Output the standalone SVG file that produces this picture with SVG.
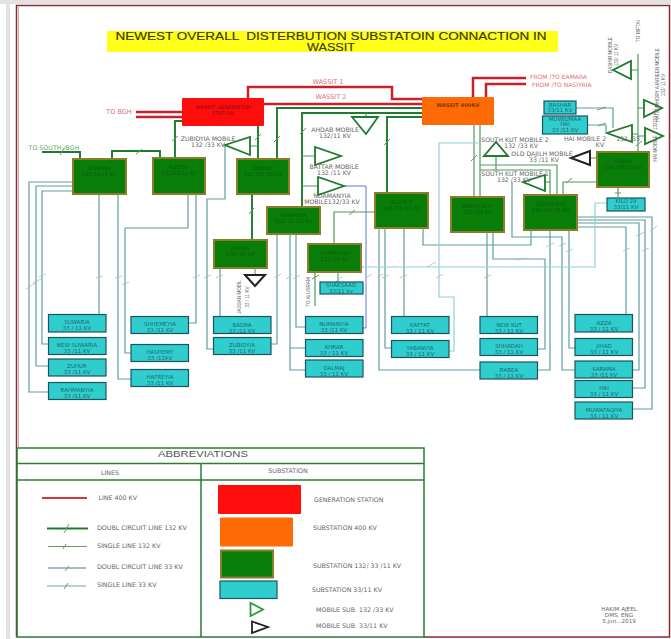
<svg xmlns="http://www.w3.org/2000/svg" width="671" height="639" viewBox="0 0 671 639">
<style>
text{font-family:"DejaVu Sans","Liberation Sans",sans-serif;text-anchor:middle}
.l{text-anchor:start}
.v{font-family:"Liberation Sans",Arial,sans-serif;font-size:4.6px;fill:#666}
.h{font-family:"Liberation Sans",Arial,sans-serif}
.fr{fill:none;stroke:#8a2a30;stroke-width:1.5}
.r{fill:none;stroke:#c8202c;stroke-width:2.5}
.g{fill:none;stroke:#1f7a2f;stroke-width:1.9}
.gs{fill:none;stroke:#4f9a5c;stroke-width:1.2}
.t{fill:none;stroke:#5f9ea0;stroke-width:1.2}
.lb{fill:none;stroke:#8fd3dc;stroke-width:1.2}
.bl{fill:none;stroke:#5a7fd0;stroke-width:1}
.tk{fill:none;stroke:#b5b5b5;stroke-width:.8}
.tg{fill:none;stroke:#5f9e5f;stroke-width:1}
.gn{fill:#087d08;stroke:#8a7d2c;stroke-width:2}
.tl{fill:#2fcdcd;stroke:#1a5560;stroke-width:1.2}
.gt{font-size:5.1px;fill:#0a5a12}
.tt{font-size:5.5px;fill:#1d6a74}
.lab{font-size:6.2px;fill:#666}
.rl{font-size:6.5px;fill:#dc7078}
.rs{font-size:6px;fill:#dc7078}
.tg1{fill:none;stroke:#1f7a2f;stroke-width:1.8}
.tb{fill:none;stroke:#222;stroke-width:2}
.lg{font-size:6.3px;fill:#666}
.sg{font-size:5.6px;fill:#666}
.box{fill:none;stroke:#2a7d33;stroke-width:1.5}
</style>
<rect x="0" y="0" width="671" height="639" fill="#fff"/>
<rect x="0" y="0" width="671" height="4" fill="#e2e2e2"/>
<rect x="6" y="4" width="4" height="635" fill="#e2e2e2"/>
<path class="fr" d="M16.5 637V5.5H669.5V637H424"/>
<path d="M18.5 7V447" fill="none" stroke="#c98a8a" stroke-width=".7"/>

<g id="title">
<rect x="107" y="31" width="451" height="21" fill="#ffff1a"/>
<text class="h" x="331" y="39.500" font-size="10.3" fill="#3a3a10" stroke="#3a3a10" stroke-width=".15" textLength="431" lengthAdjust="spacingAndGlyphs" xml:space="preserve">NEWEST OVERALL  DISTERBUTION SUBSTATOIN CONNACTION IN</text>
<text class="h" x="331" y="50.500" font-size="10.3" fill="#3a3a10" stroke="#3a3a10" stroke-width=".15" textLength="48" lengthAdjust="spacingAndGlyphs">WASSIT</text>
</g>

<g id="connectors">
<path class="r" d="M136 112H182M136 117H182M248 98V87H392V99H422M264 104H422M473 97V78H526M486 97V84H526"/>
<path class="g" d="M175 158V121H182M258 126V159M277 159V108H422M302 206V113H422M387 193V117H422M252 194V240M112 159V151H160V158M42 152H80V159"/>
<path class="gs" d="M334 244V212H375M474 125V197M480 125V197M480 165H557V195M480 170H550V195M496 155V170M545 182H550M563 195V182H597M632 134H638M631 70H638M638 54V152M638 108H644M638 136H645M302 156H315M302 186H318M250 146H258M366 113V117M315 272V306M590 158H597M618 187V197"/>
<path class="t" d="M73 182H29V392H48M73 186H36V366H48M73 191H42V344H48M99 194V314M118 194V379H131M188 194V228H125V353H131M196 194V323H188M225 145V199H207V349H213M220 268V316M271 344H277V234M290 234V370H305M290 348H305M296 234V327H305M338 272V282M379 228V370H480M385 228V348H391M404 228V316M423 228V245H531V230M487 232V316M493 232V259H545V349H538M512 182V237H562V370H575M550 230V370H538M569 230V348H575M577 217H652V409H633M577 220H645V388H633M577 223H639V370H633M577 227H626V314M576 108H613V128M588 125H606V132M255 268V275"/>
<path class="bl" d="M344 186H366V328H363"/>
<path class="lb" d="M607 203H595V267H361"/>
<path class="lb" d="M480 143H439V297H454V351H449"/>
<path class="tk" d="M26 289L37 282M33 283L41 279M39 277L46 274M96 278L103 276M115 278L122 276M122 285L129 282M193 278L200 275M204 278L211 275M216 278L223 275M274 278L281 274M286 279L292 275M293 279L300 275M366 278L372 274M377 277L383 274M382 278L389 275M400 278L407 275M436 278L443 274M427 267L436 262M484 278L491 275M516 260L527 258M546 247L554 243M559 246L566 243M566 252L573 249M623 251L630 248M642 251L649 248M636 236L645 232M650 231L657 226M334 283L342 277"/>
<path class="tg" d="M60 155L64 148M136 154L142 149M172 141L178 136M255 140L261 134M274 142L280 136M300 134L306 128M249 214L254 208M349 215L355 210M384 145L390 139M471 161L477 155M566 183L572 178M597 110L606 107M598 126L606 123M636 146L642 141M312 279L319 275M615 193L621 193"/>
</g>

<g id="mobiles">
<path id="zubidyia-mobile" class="tg1" d="M250 137V155L225 145Z"/>
<path id="ahdab-mobile" class="tg1" d="M352 117H378L366 134Z"/>
<path id="battar-mobile" class="tg1" d="M315 147V165L341 156Z"/>
<path id="noamanya-mobile" class="tg1" d="M318 177V195L344 186Z"/>
<path id="south-kut-mobile-2" class="tg1" d="M484 156H508L496 142Z"/>
<path id="south-kut-mobile-1" class="tg1" d="M545 175V191L523 182Z"/>
<path id="hai-mobile-2" class="tg1" d="M632 125V142L607 133Z"/>
<path id="bashir-mobile" class="tg1" d="M631 61V79L613 70Z"/>
<path id="ajarieen-mobile" class="tg1" d="M644 100V117L662 108Z"/>
<path id="hai-mobile-1" class="tg1" d="M645 128V144L663 136Z"/>
<path id="jassan-mobile" class="tb" d="M245 275H265L255 286Z"/>
<path id="old-dajilh-mobile" class="tb" d="M590 151V165L571 158Z"/>
</g>

<g id="labels">
<text class="rl" x="328" y="84">WASSIT 1</text>
<text class="rl" x="331" y="99">WASSIT 2</text>
<text class="rl" x="119" y="114">TO BGH</text>
<text class="rs l" x="530" y="79">FROM /TO EAMARA</text>
<text class="rs l" x="532" y="86.500">FROM /TO NASIYRIA</text>
<text x="54" y="150" font-size="6.300" fill="#5fa56a">TO SOUTH /BGH</text>
<text class="lab" x="208" y="141">ZUBIDYIA MOBILE</text><text class="lab" x="208" y="147">132 /33 KV</text>
<text class="lab" x="335" y="132">AHDAB MOBILE</text><text class="lab" x="335" y="137.500">132/11 KV</text>
<text class="lab" x="334" y="169">BATTAR MOBILE</text><text class="lab" x="334" y="174.500">132 /11 KV</text>
<text class="lab" x="332" y="198">NOAMANYIA</text><text class="lab" x="332" y="204">MOBILE132/33 KV</text>
<text class="lab" x="515" y="142">SOUTH KUT MOBILE 2</text><text class="lab" x="521" y="148">132 /33 KV</text>
<text class="lab" x="542" y="156">OLD DAJILH MOBILE</text><text class="lab" x="544" y="161.500">33 /11 KV</text>
<text class="lab" x="515" y="176">SOUTH KUT MOBILE 1</text><text class="lab" x="514" y="181.500">132 /33 KV</text>
<text class="lab" x="585" y="141">HAI MOBILE 2</text><text class="lab" x="600" y="146.500">KV</text>
<text class="lab" x="628" y="141">132 /33</text>
<text class="v" transform="translate(640 31) rotate(-90)">TO RIFTAI</text>
<text class="v" transform="translate(612 55) rotate(-90)">BASHIR MOBILE</text>
<text class="v" transform="translate(618 55) rotate(-90)">132/ 11 KV</text>
<text class="v" transform="translate(659 85) rotate(-90)">HAI JUMHORY AJARIEEN MOBILE</text>
<text class="v" transform="translate(665 85) rotate(-90)">132/ 11 KV</text>
<text class="v" transform="translate(657 135) rotate(-90)">HAI MOBILE 1 132/33 KV</text>
<text class="v" transform="translate(241 297) rotate(-90)">JASSAN MOBIL</text>
<text class="v" transform="translate(249 297) rotate(-90)">33 / 11 KV</text>
<text class="v" transform="translate(310 292) rotate(-90)">TO ALUSRAM</text>
</g>

<g id="wassit-generation"><rect x="182" y="98" width="82" height="28" rx="1" fill="#fe0d0d"/><text x="223" y="108.500" font-size="5.200" fill="#8a1010">WASSIT GENERATION</text><text x="223" y="114.500" font-size="5.200" fill="#8a1010">STATION</text></g>
<g id="wassit-400"><rect x="422" y="97" width="72" height="28" rx="1" fill="#fe6a06"/><text x="458" y="107" font-size="5.200" font-weight="bold" fill="#8a3006">WASSIT 400KV</text></g>

<g id="suwaria-132"><rect class="gn" x="73" y="159" width="53" height="35"/><text class="gt" x="99" y="170">SUWARIA</text><text class="gt" x="99" y="175.500">132/33/11 KV</text></g>
<g id="aziziya"><rect class="gn" x="153" y="158" width="52" height="36"/><text class="gt" x="179" y="169">AZIZIYA</text><text class="gt" x="179" y="174.500">132/33/11 KV</text></g>
<g id="obidny"><rect class="gn" x="237" y="159" width="52" height="35"/><text class="gt" x="263" y="170">OBIDNY</text><text class="gt" x="263" y="175.500">132 /33 /11 KV</text></g>
<g id="numaniya-132"><rect class="gn" x="267" y="207" width="53" height="27"/><text class="gt" x="293.500" y="217">NUMANIYA</text><text class="gt" x="293.500" y="222.500">132/ 33 /11 KV</text></g>
<g id="jassan"><rect class="gn" x="214" y="240" width="53" height="28"/><text class="gt" x="240" y="250">JASSAN</text><text class="gt" x="240" y="256">132 / 33 KV</text></g>
<g id="shahsaad-132"><rect class="gn" x="308" y="244" width="53" height="28"/><text class="gt" x="334.500" y="255">SHAHSAAD</text><text class="gt" x="334.500" y="260.500">132 /33 KV</text></g>
<g id="old-kut"><rect class="gn" x="375" y="193" width="53" height="35"/><text class="gt" x="401.500" y="204">OLD KUT</text><text class="gt" x="401.500" y="209.500">132 /33 /11 KV</text></g>
<g id="north-kut"><rect class="gn" x="451" y="197" width="53" height="35"/><text class="gt" x="477.500" y="208">NORTH KUT</text><text class="gt" x="477.500" y="213.500">132 /33 KV</text></g>
<g id="south-kut"><rect class="gn" x="524" y="195" width="53" height="35"/><text class="gt" x="550.500" y="206">SOUTH KUT</text><text class="gt" x="550.500" y="211.500">132 /33 /11 KV</text></g>
<g id="dajilh"><rect class="gn" x="597" y="152" width="52" height="35"/><text class="gt" x="623" y="163">DAJILH</text><text class="gt" x="623" y="168.500">132 /33 /11 KV</text></g>

<g id="bashar"><rect class="tl" x="544" y="101" width="32" height="13"/><text class="tt" x="560" y="106.500">BASHAR</text><text class="tt" x="560" y="112">33/11 KV</text></g>
<g id="muwajumaa"><rect class="tl" x="542.500" y="116" width="45" height="18"/><text class="tt" x="565" y="120.500">MUWJUMAA</text><text class="tt" x="565" y="126">HAI</text><text class="tt" x="565" y="132">33 /11 KV</text></g>
<g id="kilo-29"><rect class="tl" x="607" y="198" width="38" height="13"/><text class="tt" x="626" y="203">KILO 29</text><text class="tt" x="626" y="209">33/11 KV</text></g>
<g id="suwaria"><rect class="tl" x="48.500" y="314.500" width="57.500" height="17.500"/><text class="tt" x="77" y="324">SUWARIA</text><text class="tt" x="77" y="330">33 / 11 KV</text></g>
<g id="new-suwaria"><rect class="tl" x="48.500" y="337.500" width="57.500" height="17"/><text class="tt" x="77" y="347">NEW SUWARIA</text><text class="tt" x="77" y="353">33 /11 KV</text></g>
<g id="zuhur"><rect class="tl" x="48.500" y="359" width="57.500" height="17"/><text class="tt" x="77" y="368">ZUHUR</text><text class="tt" x="77" y="374">33 /11 KV</text></g>
<g id="rahmaniya"><rect class="tl" x="48.500" y="382.500" width="57.500" height="17"/><text class="tt" x="77" y="392">RAHMANYIA</text><text class="tt" x="77" y="398">33 /11 KV</text></g>
<g id="shhemeyia"><rect class="tl" x="131" y="316.500" width="57.500" height="17"/><text class="tt" x="160" y="326">SHHEMEYIA</text><text class="tt" x="160" y="332">33 /11 KV</text></g>
<g id="hashemy"><rect class="tl" x="131" y="344.500" width="57.500" height="17"/><text class="tt" x="160" y="354">HASHEMY</text><text class="tt" x="160" y="360">33 /11KV</text></g>
<g id="hafreyia"><rect class="tl" x="131" y="369.500" width="57.500" height="17"/><text class="tt" x="160" y="379">HAFREYIA</text><text class="tt" x="160" y="385">33 /11 KV</text></g>
<g id="badra"><rect class="tl" x="213.500" y="316.500" width="57.500" height="17"/><text class="tt" x="242" y="326.500">BADRA</text><text class="tt" x="242" y="332.500">33 /11 KV</text></g>
<g id="zubidyia"><rect class="tl" x="213.500" y="337.500" width="57.500" height="17"/><text class="tt" x="242" y="347">ZUBIDYIA</text><text class="tt" x="242" y="353">33 /11 KV</text></g>
<g id="shahsaad"><rect class="tl" x="320" y="282" width="43" height="12"/><text class="tt" x="341" y="287">SHAKSAAD</text><text class="tt" x="341" y="292.500">33/11 kv</text></g>
<g id="numaniya"><rect class="tl" x="305.500" y="316.500" width="57.500" height="17"/><text class="tt" x="334" y="326">NUMANYIA</text><text class="tt" x="334" y="332">33 /11 KV</text></g>
<g id="ahrar"><rect class="tl" x="305.500" y="339.500" width="57.500" height="17"/><text class="tt" x="334" y="349">AHRAR</text><text class="tt" x="334" y="355">33 / 11 KV</text></g>
<g id="dalmaj"><rect class="tl" x="305.500" y="360" width="57.500" height="17"/><text class="tt" x="334" y="369.500">DALMAJ</text><text class="tt" x="334" y="375.500">33 / 11 KV</text></g>
<g id="kaffat"><rect class="tl" x="391.500" y="316.500" width="57.500" height="17"/><text class="tt" x="420" y="326.500">KAFFAT</text><text class="tt" x="420" y="332.500">33 / 11 KV</text></g>
<g id="yabanyia"><rect class="tl" x="391.500" y="340.500" width="57.500" height="17"/><text class="tt" x="420" y="350">YABANYIA</text><text class="tt" x="420" y="356">33 / 11 KV</text></g>
<g id="new-kut"><rect class="tl" x="480" y="316.500" width="57.500" height="17"/><text class="tt" x="509" y="326.500">NEW KUT</text><text class="tt" x="509" y="332.500">33 / 11 KV</text></g>
<g id="shihadah"><rect class="tl" x="480" y="338.500" width="57.500" height="17"/><text class="tt" x="509" y="348">SHHADAH</text><text class="tt" x="509" y="354">33 / 11 KV</text></g>
<g id="rabea"><rect class="tl" x="480" y="362" width="57.500" height="17"/><text class="tt" x="509" y="371.500">RABEA</text><text class="tt" x="509" y="377.500">33 / 11 KV</text></g>
<g id="azza"><rect class="tl" x="575" y="314.500" width="57.500" height="17.500"/><text class="tt" x="604" y="324.500">AZZA</text><text class="tt" x="604" y="330.500">33 / 11 KV</text></g>
<g id="jihad"><rect class="tl" x="575" y="338.500" width="57.500" height="17"/><text class="tt" x="604" y="348">JIHAD</text><text class="tt" x="604" y="354">33 / 11 KV</text></g>
<g id="karama"><rect class="tl" x="575" y="361" width="57.500" height="17"/><text class="tt" x="604" y="370.500">KARAMA</text><text class="tt" x="604" y="376.500">33 /11 KV</text></g>
<g id="hai"><rect class="tl" x="575" y="380.500" width="57.500" height="17"/><text class="tt" x="604" y="390">HAI</text><text class="tt" x="604" y="396">33 / 11 KV</text></g>
<g id="muwafaqiya"><rect class="tl" x="575" y="402" width="57.500" height="17"/><text class="tt" x="604" y="411.500">MUWAFAQIYA</text><text class="tt" x="604" y="417.500">33 / 11 KV</text></g>

<g id="legend">
<path class="box" d="M17 448H424V637H17ZM17 463.500H424M17 480H424M201 463.500V637"/>
<text class="h" x="203" y="456.500" font-size="9.500" fill="#555" textLength="90" lengthAdjust="spacingAndGlyphs">ABBREVIATIONS</text>
<text class="lg" x="110" y="474.500">LINES</text>
<text class="lg" x="288" y="472.500">SUBSTATION</text>
<path d="M42 498H87" fill="none" stroke="#d8343c" stroke-width="2"/>
<path d="M47 528.500H88" fill="none" stroke="#1f7a2f" stroke-width="1.800"/>
<path d="M48 546.500H87" fill="none" stroke="#5f9e6a" stroke-width="1"/>
<path d="M48 568H86" fill="none" stroke="#3f7f88" stroke-width="1"/>
<path d="M47 586H86" fill="none" stroke="#6aa5a8" stroke-width="1.100"/>
<path d="M64 533L69 524M63 549L66 544M65 571L69 566M64 589L68 583" fill="none" stroke="#6a9e6a" stroke-width="1"/>
<text class="lg l" x="98.500" y="499.500">LINE 400 KV</text>
<text class="lg l" x="97" y="530">DOUBL CIRCUIT LINE 132 KV</text>
<text class="lg l" x="97" y="548">SINGLE LINE 132 KV</text>
<text class="lg l" x="97" y="569">DOUBL CIRCUIT LINE 33 KV</text>
<text class="lg l" x="97" y="587">SINGLE LINE 33 KV</text>
<rect x="218" y="485" width="83" height="29" rx="1" fill="#fe0d0d"/>
<rect x="220" y="517.500" width="73" height="29" rx="1" fill="#fe6a06"/>
<rect class="gn" x="221" y="550.500" width="52" height="27"/>
<rect class="tl" x="220" y="581" width="57" height="17.500"/>
<path d="M250.500 603V616L263 609.500Z" fill="none" stroke="#2e9a3a" stroke-width="1.800"/>
<path d="M252 621.500V633L268 627Z" fill="none" stroke="#222" stroke-width="1.800"/>
<text class="lg l" x="314" y="501.500">GENERATION STATION</text>
<text class="lg l" x="313" y="530">SUBSTATION 400 KV</text>
<text class="lg l" x="313" y="568">SUBSTATION 132/ 33 /11 KV</text>
<text class="lg l" x="312" y="592">SUBSTATION 33/11 KV</text>
<text class="lg l" x="316" y="611.500">MOBILE SUB. 132 /33 KV</text>
<text class="lg l" x="316" y="627.500">MOBILE SUB. 33/11 KV</text>
</g>

<g id="signature">
<text class="sg" x="619" y="611">HAKIM AJEEL</text>
<text class="sg" x="619" y="617">DMS. ENG</text>
<text class="sg" x="619" y="623">5.jun...2019</text>
</g>
</svg>
